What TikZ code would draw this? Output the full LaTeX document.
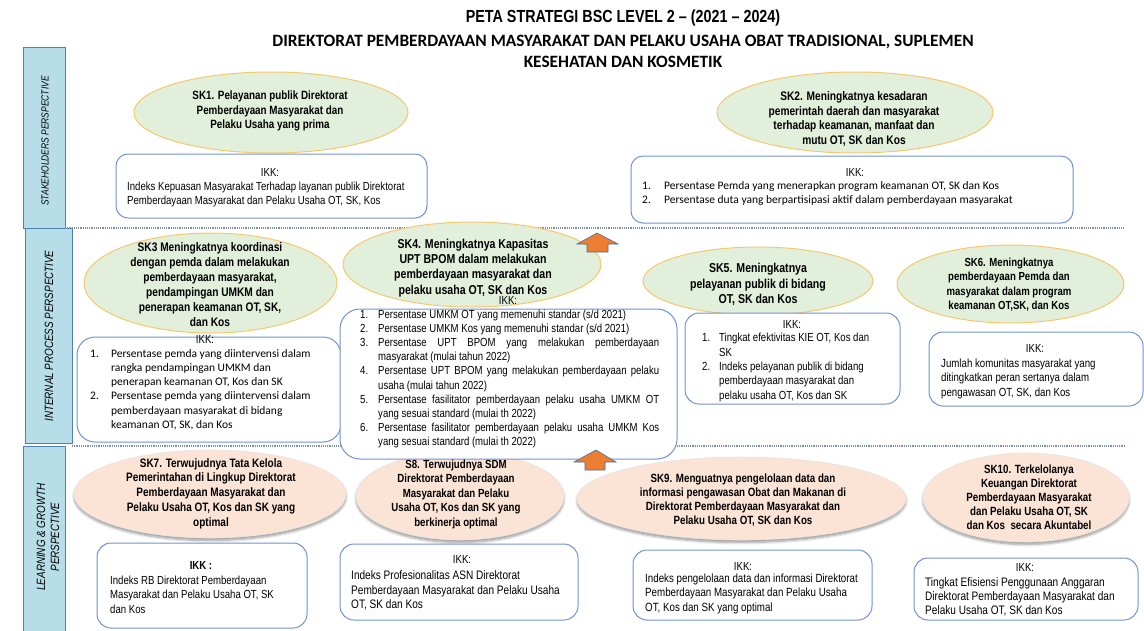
\documentclass[tikz,border=0pt]{standalone}
\usepackage{fontspec}
\setmainfont{Liberation Sans}
\newfontfamily\narrowfont{Liberation Sans}[FakeStretch=0.82]
\newfontfamily\calibrifont{Carlito}
\usetikzlibrary{shadows.blur}
\definecolor{barfill}{RGB}{183,221,232}
\definecolor{barline}{RGB}{80,126,186}
\definecolor{goalgreen}{RGB}{226,239,218}
\definecolor{goalline}{RGB}{246,200,110}
\definecolor{goalpeach}{RGB}{251,228,213}
\definecolor{ikkline}{RGB}{112,146,214}
\definecolor{sepline}{RGB}{128,142,168}
\definecolor{arrowfill}{RGB}{237,125,49}
\definecolor{arrowline}{RGB}{65,113,156}
\newcommand{\fsz}[2]{\fontsize{#1}{#2}\selectfont}
\newcommand{\ikkno}[2][18pt]{\makebox[#1][l]{#2}}
\newcommand{\ikkin}[1][18pt]{\hspace*{#1}}
\newcommand{\jline}[1]{\makebox[281pt][s]{#1}}

\begin{document}
\begin{tikzpicture}[x=1pt,y=1pt]
\tikzstyle{every node}+=[inner sep=0pt]
\tikzstyle{bar}=[draw=barline,fill=barfill,line width=0.8pt]
\tikzstyle{bartext}=[rotate=90,align=center]
\tikzstyle{sep}=[sepline,line width=2.2pt,dash pattern=on 1.1pt off 1.1pt]
\tikzstyle{goal}=[draw=goalline,fill=goalgreen,line width=1pt]
\tikzstyle{lggoal}=[fill=goalpeach,draw=gray!20,line width=0.6pt,blur shadow={shadow xshift=0pt,shadow yshift=-2.5pt,shadow blur steps=6,shadow blur radius=2.5pt}]
\tikzstyle{goaltext}=[align=center]
\tikzstyle{ikkbox}=[draw=ikkline,fill=white,line width=1pt,rounded corners=12pt]
\tikzstyle{ikkhead}=[font=\narrowfont\fsz{11.7}{14.3}]
\tikzstyle{ikktext}=[anchor=west,align=left]
\tikzstyle{uparrow}=[fill=arrowfill,draw=arrowline,line width=0.6pt,line join=miter]
\useasboundingbox (0,0) rectangle (1144,-630);
\draw (623,-18) node (title) [font=\narrowfont\bfseries\fsz{17.5}{20}] {PETA STRATEGI BSC LEVEL 2 – (2021 – 2024)};
\draw (623,-51) node (subtitle) [align=center,font=\calibrifont\bfseries\fsz{17.3}{21}] {DIREKTORAT PEMBERDAYAAN MASYARAKAT DAN PELAKU USAHA OBAT TRADISIONAL, SUPLEMEN\\KESEHATAN DAN KOSMETIK};
\draw [bar] (23,-47) rectangle (65,-228);
\draw [bar] (25,-228) rectangle (72,-443);
\draw [bar] (23,-446) rectangle (65,-632);
\draw [sep] (65,-228) -- (1125,-228);
\draw [sep] (72,-446) -- (1125,-446);
\draw [goal] (271,-112.5) ellipse (137pt and 40.5pt);
\draw [goal] (855,-112.5) ellipse (138pt and 40.5pt);
\draw [goal] (210.5,-283) ellipse (126.5pt and 50pt);
\draw [goal] (472,-264.5) ellipse (129pt and 42.5pt);
\draw [goal] (758,-281) ellipse (115pt and 34pt);
\draw [goal] (1010.5,-284) ellipse (113.5pt and 39pt);
\draw [lggoal] (210,-494) ellipse (136pt and 44pt);
\draw [lggoal] (460,-496) ellipse (104pt and 44pt);
\draw [lggoal] (741.5,-498.5) ellipse (164.5pt and 41.5pt);
\draw [lggoal] (1026,-497.5) ellipse (103pt and 44.5pt);
\draw [ikkbox] (116,-154) rectangle (427,-218);
\draw [ikkbox] (631,-156) rectangle (1073,-223);
\draw [ikkbox,rounded corners=18pt] (77,-337) rectangle (341,-442);
\draw [ikkbox,rounded corners=20pt] (340,-309) rectangle (677,-459);
\draw [ikkbox,rounded corners=14pt] (685,-313) rectangle (900,-404);
\draw [ikkbox,rounded corners=14pt] (929,-332) rectangle (1143,-406);
\draw [ikkbox,rounded corners=14pt] (97,-543) rectangle (307,-628);
\draw [ikkbox,rounded corners=14pt] (340,-544) rectangle (578,-620);
\draw [ikkbox,rounded corners=14pt] (633,-550) rectangle (872,-620);
\draw [ikkbox,rounded corners=14pt] (914,-558) rectangle (1138,-620);
\draw [uparrow] (597,-233) -- (618,-244) -- (608,-244) -- (608,-252) -- (587,-252) -- (587,-244) -- (577,-244) -- cycle;
\draw [uparrow] (596,-450) -- (616,-462) -- (605,-462) -- (605,-470) -- (585,-470) -- (585,-462) -- (574,-462) -- cycle;
\draw (45,-141) node (stakeholders) [bartext,font=\narrowfont\itshape\fsz{10.3}{12}] {STAKEHOLDERS PERSPECTIVE};
\draw (49,-336) node (internal) [bartext,font=\narrowfont\itshape\fsz{12}{13}] {INTERNAL PROCESS PERSPECTIVE};
\draw (48,-537) node (learning) [bartext,font=\narrowfont\itshape\fsz{12}{14}] {LEARNING \& GROWTH\\PERSPECTIVE};
\draw (270,-111) node (sk1) [goaltext,font=\narrowfont\bfseries\fsz{12}{14.3}] {SK1. Pelayanan publik Direktorat\\Pemberdayaan Masyarakat dan\\Pelaku Usaha yang prima};
\draw (854,-119) node (sk2) [goaltext,font=\narrowfont\bfseries\fsz{12.4}{14.7}] {SK2. Meningkatnya kesadaran\\pemerintah daerah dan masyarakat\\terhadap keamanan, manfaat dan\\mutu OT, SK dan Kos};
\draw (210,-284.5) node (sk3) [goaltext,font=\narrowfont\bfseries\fsz{12.4}{15}] {SK3 Meningkatnya koordinasi\\dengan pemda dalam melakukan\\pemberdayaan masyarakat,\\pendampingan UMKM dan\\penerapan keamanan OT, SK,\\dan Kos};
\draw (473,-268) node (sk4) [goaltext,font=\narrowfont\bfseries\fsz{12.9}{15.3}] {SK4. Meningkatnya Kapasitas\\UPT BPOM dalam melakukan\\pemberdayaan masyarakat dan\\pelaku usaha OT, SK dan Kos};
\draw (758,-284.5) node (sk5) [goaltext,font=\narrowfont\bfseries\fsz{12.9}{15.5}] {SK5. Meningkatnya\\pelayanan publik di bidang\\OT, SK dan Kos};
\draw (1009,-284.5) node (sk6) [goaltext,font=\narrowfont\bfseries\fsz{11.7}{14.4}] {SK6. Meningkatnya\\pemberdayaan Pemda dan\\masyarakat dalam program\\keamanan OT,SK, dan Kos};
\draw (211,-493.5) node (sk7) [goaltext,font=\narrowfont\bfseries\fsz{12.2}{14.8}] {SK7. Terwujudnya Tata Kelola\\Pemerintahan di Lingkup Direktorat\\Pemberdayaan Masyarakat dan\\Pelaku Usaha OT, Kos dan SK yang\\optimal};
\draw (456,-494) node (sk8) [goaltext,font=\narrowfont\bfseries\fsz{11.8}{14.5}] {S8. Terwujudnya SDM\\Direktorat Pemberdayaan\\Masyarakat dan Pelaku\\Usaha OT, Kos dan SK yang\\berkinerja optimal};
\draw (743,-500) node (sk9) [goaltext,font=\narrowfont\bfseries\fsz{11.9}{14}] {SK9. Menguatnya pengelolaan data dan\\informasi pengawasan Obat dan Makanan di\\Direktorat Pemberdayaan Masyarakat dan\\Pelaku Usaha OT, SK dan Kos};
\draw (1029,-497) node (sk10) [goaltext,font=\narrowfont\bfseries\fsz{11.9}{14}] {SK10. Terkelolanya\\Keuangan Direktorat\\Pemberdayaan Masyarakat\\dan Pelaku Usaha OT, SK\\dan Kos~~secara Akuntabel};
\draw (270,-172) node (ikk1head) [ikkhead] {IKK:};
\draw (127,-194.5) node (ikk1) [ikktext,font=\narrowfont\fsz{11.7}{14.5}] {Indeks Kepuasan Masyarakat Terhadap layanan publik Direktorat\\Pemberdayaan Masyarakat dan Pelaku Usaha OT, SK, Kos};
\draw (855,-172) node (ikk2head) [ikkhead] {IKK:};
\draw (642,-193) node (ikk2) [ikktext,font=\calibrifont\fsz{11.5}{14}] {\ikkno[22pt]{1.}Persentase Pemda yang menerapkan program keamanan OT, SK dan Kos\\\ikkno[22pt]{2.}Persentase duta yang berpartisipasi aktif dalam pemberdayaan masyarakat};
\draw (205,-339) node (ikk3head) [ikkhead] {IKK:};
\draw (90,-389.5) node (ikk3) [ikktext,font=\calibrifont\fsz{11.5}{14.2}] {\ikkno[21pt]{1.}Persentase pemda yang diintervensi dalam\\\ikkin[21pt]rangka pendampingan UMKM dan\\\ikkin[21pt]penerapan keamanan OT, Kos dan SK\\\ikkno[21pt]{2.}Persentase pemda yang diintervensi dalam\\\ikkin[21pt]pemberdayaan masyarakat di bidang\\\ikkin[21pt]keamanan OT, SK, dan Kos};
\draw (508,-300) node (ikk4head) [ikkhead] {IKK:};
\draw (360,-379) node (ikk4) [ikktext,font=\narrowfont\fsz{11.7}{14.2}] {\ikkno{1.}Persentase UMKM OT yang memenuhi standar (s/d 2021)\\\ikkno{2.}Persentase UMKM Kos yang memenuhi standar (s/d 2021)\\\ikkno{3.}\jline{Persentase UPT BPOM yang melakukan pemberdayaan}\\\ikkin masyarakat (mulai tahun 2022)\\\ikkno{4.}\jline{Persentase UPT BPOM yang melakukan pemberdayaan pelaku}\\\ikkin usaha (mulai tahun 2022)\\\ikkno{5.}\jline{Persentase fasilitator pemberdayaan pelaku usaha UMKM OT}\\\ikkin yang sesuai standard (mulai th 2022)\\\ikkno{6.}\jline{Persentase fasilitator pemberdayaan pelaku usaha UMKM Kos}\\\ikkin yang sesuai standard (mulai th 2022)};
\draw (792,-324) node (ikk5head) [ikkhead] {IKK:};
\draw (702,-367.5) node (ikk5) [ikktext,font=\narrowfont\fsz{11.7}{14.3}] {\ikkno[17pt]{1.}Tingkat efektivitas KIE OT, Kos dan\\\ikkin[17pt]SK\\\ikkno[17pt]{2.}Indeks pelayanan publik di bidang\\\ikkin[17pt]pemberdayaan masyarakat dan\\\ikkin[17pt]pelaku usaha OT, Kos dan SK};
\draw (1035,-348) node (ikk6head) [ikkhead] {IKK:};
\draw (941,-378.5) node (ikk6) [ikktext,font=\narrowfont\fsz{11.8}{14.5}] {Jumlah komunitas masyarakat yang\\ditingkatkan peran sertanya dalam\\pengawasan OT, SK, dan Kos};
\draw (201,-565) node (ikk7head) [ikkhead,font=\narrowfont\bfseries\fsz{11.7}{14.3}] {IKK :};
\draw (110,-594.5) node (ikk7) [ikktext,font=\narrowfont\fsz{11.7}{14.5}] {Indeks RB Direktorat Pemberdayaan\\Masyarakat dan Pelaku Usaha OT, SK\\dan Kos};
\draw (462,-559) node (ikk8head) [ikkhead] {IKK:};
\draw (351,-590.5) node (ikk8) [ikktext,font=\narrowfont\fsz{12.3}{14.5}] {Indeks Profesionalitas ASN Direktorat\\Pemberdayaan Masyarakat dan Pelaku Usaha\\OT, SK dan Kos};
\draw (743,-566) node (ikk9head) [ikkhead] {IKK:};
\draw (645,-593.5) node (ikk9) [ikktext,font=\narrowfont\fsz{11.9}{14.5}] {Indeks pengelolaan data dan informasi Direktorat\\Pemberdayaan Masyarakat dan Pelaku Usaha\\OT, Kos dan SK yang optimal};
\draw (1025,-567) node (ikk10head) [ikkhead] {IKK:};
\draw (925,-597) node (ikk10) [ikktext,font=\narrowfont\fsz{12.3}{14}] {Tingkat Efisiensi Penggunaan Anggaran\\Direktorat Pemberdayaan Masyarakat dan\\Pelaku Usaha OT, SK dan Kos};
\end{tikzpicture}
\end{document}
